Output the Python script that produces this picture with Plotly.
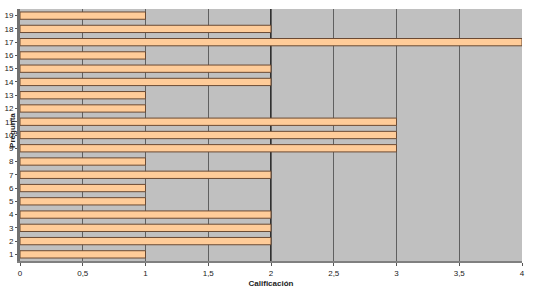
import plotly.graph_objects as go

preguntas = [str(i) for i in range(1, 20)]
calificacion = [1, 2, 2, 2, 1, 1, 2, 1, 3, 3, 3, 1, 1, 2, 2, 1, 4, 2, 1]
x_ticks = [0, 0.5, 1, 1.5, 2, 2.5, 3, 3.5, 4]

fig = go.Figure()
fig.add_trace(go.Bar(
    x=calificacion, y=preguntas, orientation="h",
    marker=dict(color="#FFCC99", line=dict(color="#6B4A33", width=1)),
    width=0.55,
))

fig.update_layout(
    width=537, height=294,
    margin=dict(l=20, r=15, t=9, b=33),
    paper_bgcolor="white", plot_bgcolor="#C0C0C0",
    separators=",.",
    showlegend=False,
    font=dict(family="Liberation Sans, Arial", size=8, color="#222"),
    xaxis=dict(range=[0, 4], tickvals=x_ticks, showgrid=True, gridcolor="#606060",
               gridwidth=1, zeroline=False, ticks="outside", ticklen=3,
               tickcolor="#555", showline=True, linecolor="#808080", linewidth=2,
               automargin=False,
               title=dict(text="<b>Calificación</b>", font=dict(size=8), standoff=4)),
    yaxis=dict(type="category", categoryorder="array", categoryarray=preguntas,
               range=[-0.5, 18.5], showgrid=False, ticks="outside", ticklen=2,
               tickcolor="#555", showline=True, linecolor="#707070", linewidth=3,
               automargin=False, tickfont=dict(size=8)),
)
fig.add_shape(type="line", xref="x", yref="paper", x0=2, x1=2, y0=0, y1=1,
              layer="below", line=dict(color="black", width=1.5))
fig.add_annotation(text="<b>Pregunta</b>", textangle=-90, xref="paper", yref="paper",
                   x=-0.027, y=0.52, showarrow=False, font=dict(size=8, color="#222"))

fig.write_html("out.html")
